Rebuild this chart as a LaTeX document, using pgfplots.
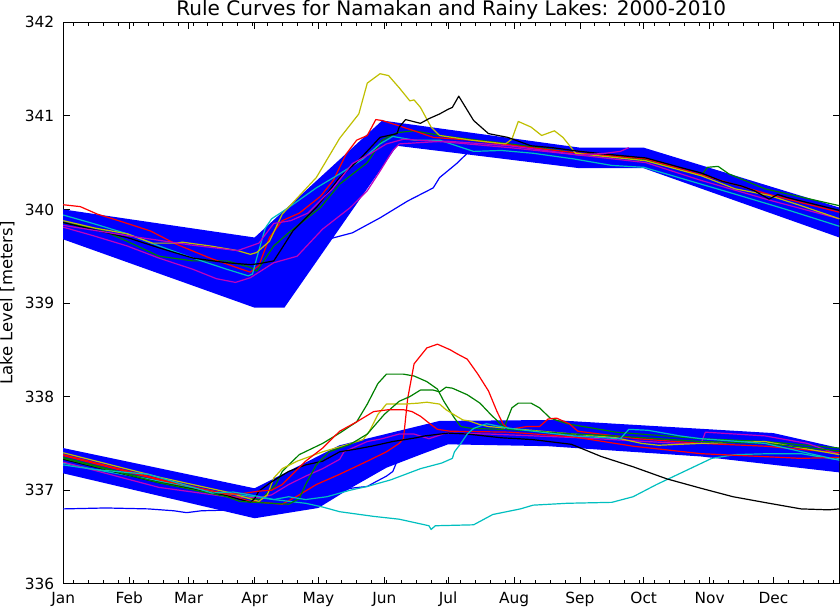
\documentclass[border=0pt]{standalone}
\usepackage{fontspec}
\setmainfont{DejaVu Sans}
\usepackage{pgfplots}
\pgfplotsset{compat=1.18}
\definecolor{mplb}{HTML}{0000FF}
\definecolor{mplg}{HTML}{008000}
\definecolor{mplr}{HTML}{FF0000}
\definecolor{mplc}{HTML}{00BFBF}
\definecolor{mplm}{HTML}{BF00BF}
\definecolor{mply}{HTML}{BFBF00}

\pgfplotsset{yr/.style={line width=0.9pt, line join=round}}

\begin{document}
\begin{tikzpicture}
\begin{axis}[
    name=ax,
    scale only axis,
    width=580.5pt, height=420pt,
    xmin=0, xmax=365, ymin=336, ymax=342,
    xtick={0,31,59,90,120,151,181,212,243,273,304,334},
    xticklabels={Jan,Feb,Mar,Apr,May,Jun,Jul,Aug,Sep,Oct,Nov,Dec},
    minor xtick={5,12,...,362},
    ytick={336,337,...,342},
    tick align=inside,
    major tick length=5pt, minor tick length=2.5pt,
    tick style={black, line width=0.6pt},
    axis line style={line width=1pt},
    /pgf/number format/assume math mode=true,
    ticklabel style={font=\fontsize{11.5}{13}\selectfont, inner sep=0pt},
    xticklabel style={anchor=base, yshift=-15pt},
    yticklabel style={anchor=east, xshift=-6.5pt},
    every axis title/.style={at={(0.5,1)}, anchor=base, inner sep=0pt, yshift=5.25pt, font=\fontsize{15}{17}\selectfont},
    title={Rule Curves for Namakan and Rainy Lakes: 2000-2010},
]
% rule curve bands
\addplot[fill=mplb, draw=none] coordinates {(0,340.00)(90,339.70)(150,340.95)(243,340.66)(273,340.66)(365,340.02)(365,339.70)(273,340.44)(243,340.44)(157,340.68)(104,338.95)(90,338.95)(0,339.68)} -- cycle;
\addplot[fill=mplb, draw=none] coordinates {(0,337.45)(90,337.02)(130,337.48)(177,337.74)(230,337.75)(334,337.61)(365,337.45)(365,337.19)(300,337.36)(228,337.47)(181,337.49)(168,337.38)(152,337.24)(135,337.02)(120,336.81)(90,336.70)(0,337.18)} -- cycle;

% Namakan
\addplot[yr, mplb] coordinates {(0,339.85)(30,339.70)(60,339.55)(88,339.42)(105,339.55)(126,339.69)(136,339.75)(149,339.91)(162,340.09)(174,340.23)(177,340.34)(185,340.49)(190,340.60)(196,340.70)(220,340.68)(243,340.58)(274,340.50)(300,340.33)(332,340.05)(365,339.85)};
\addplot[yr, mplg] coordinates {(0,339.86)(17,339.79)(30,339.66)(45,339.50)(61,339.45)(77,339.45)(88,339.38)(91,339.34)(99,339.61)(106,339.75)(121,340.02)(130,340.27)(143,340.50)(150,340.74)(157,340.82)(165,340.84)(180,340.78)(210,340.70)(243,340.60)(274,340.53)(300,340.36)(303,340.45)(308,340.46)(313,340.38)(330,340.22)(365,340.04)};
\addplot[yr, mplr] coordinates {(0,340.05)(8,340.03)(16,339.95)(26,339.88)(41,339.77)(53,339.63)(69,339.48)(84,339.36)(88,339.33)(92,339.40)(97,339.70)(103,339.88)(111,339.96)(121,340.14)(127,340.31)(133,340.59)(138,340.74)(143,340.79)(147,340.96)(150,340.95)(157,340.90)(165,340.84)(174,340.77)(192,340.74)(220,340.66)(243,340.60)(274,340.54)(300,340.37)(332,340.16)(365,339.97)};
\addplot[yr, mplc] coordinates {(0,339.94)(14,339.85)(30,339.74)(45,339.61)(61,339.48)(77,339.36)(87,339.29)(89,339.31)(91,339.48)(95,339.80)(98,339.90)(106,340.02)(119,340.23)(130,340.38)(141,340.54)(149,340.70)(155,340.78)(165,340.74)(177,340.74)(193,340.62)(206,340.63)(221,340.60)(240,340.54)(258,340.47)(273,340.45)(300,340.27)(315,340.17)(340,340.00)(365,339.82)};
\addplot[yr, mplm] coordinates {(0,339.81)(14,339.72)(30,339.61)(45,339.48)(61,339.36)(72,339.26)(81,339.22)(88,339.27)(99,339.43)(110,339.50)(122,339.79)(135,340.02)(143,340.20)(149,340.41)(155,340.63)(158,340.70)(165,340.71)(180,340.73)(210,340.68)(243,340.58)(274,340.50)(300,340.31)(332,340.10)(365,339.90)};
\addplot[yr, mply] coordinates {(0,339.88)(15,339.80)(30,339.74)(42,339.64)(53,339.64)(56,339.65)(69,339.61)(82,339.56)(88,339.52)(91,339.54)(97,339.66)(103,339.95)(119,340.34)(130,340.76)(139,341.02)(143,341.35)(149,341.45)(153,341.43)(158,341.30)(163,341.16)(165,341.17)(168,341.09)(173,340.88)(177,340.79)(192,340.74)(208,340.70)(211,340.75)(214,340.94)(220,340.88)(225,340.79)(231,340.84)(235,340.77)(241,340.60)(253,340.57)(274,340.52)(300,340.36)(316,340.22)(332,340.15)(347,340.04)(365,339.90)};
\addplot[yr, black] coordinates {(0,339.86)(15,339.78)(30,339.70)(45,339.59)(61,339.48)(77,339.43)(88,339.41)(92,339.42)(99,339.45)(103,339.59)(108,339.77)(119,340.02)(130,340.34)(140,340.55)(149,340.77)(157,340.81)(158,340.88)(161,340.96)(168,340.92)(172,340.97)(177,341.02)(181,341.07)(183,341.09)(186,341.21)(193,340.95)(200,340.81)(209,340.77)(220,340.68)(230,340.66)(243,340.62)(260,340.58)(274,340.55)(290,340.45)(300,340.39)(310,340.30)(319,340.25)(325,340.20)(332,340.11)(336,340.16)(340,340.13)(347,340.09)(365,339.99)};
\addplot[yr, mplm] coordinates {(0,339.83)(30,339.72)(60,339.62)(82,339.56)(92,339.64)(99,339.85)(107,339.88)(115,339.96)(127,340.23)(136,340.49)(144,340.59)(152,340.70)(160,340.75)(180,340.72)(210,340.66)(243,340.58)(255,340.60)(262,340.62)(266,340.66)};

% Rainy
\addplot[yr, mplb] coordinates {(0,336.80)(20,336.81)(40,336.80)(52,336.78)(58,336.76)(65,336.78)(82,336.79)(100,336.86)(120,336.92)(135,337.02)(143,337.04)(147,337.09)(152,337.15)(155,337.20)(157,337.31)(160,337.34)(170,337.45)(181,337.55)(220,337.58)(260,337.50)(300,337.45)(365,337.30)};
\addplot[yr, mplg] coordinates {(0,337.35)(45,337.09)(77,336.94)(93,336.90)(100,337.06)(103,337.20)(111,337.38)(122,337.50)(130,337.61)(138,337.73)(143,337.92)(148,338.14)(152,338.24)(160,338.24)(165,338.22)(171,338.16)(176,338.08)(179,337.95)(184,337.77)(187,337.68)(192,337.66)(207,337.65)(211,337.88)(214,337.93)(220,337.93)(224,337.88)(229,337.77)(237,337.71)(260,337.62)(300,337.55)(330,337.52)(365,337.45)};
\addplot[yr, mplr] coordinates {(0,337.38)(45,337.12)(77,336.95)(88,336.88)(103,336.85)(111,336.95)(119,337.06)(130,337.17)(143,337.31)(152,337.41)(158,337.50)(160,337.55)(162,337.98)(165,338.35)(171,338.52)(176,338.56)(182,338.50)(185,338.46)(190,338.40)(195,338.24)(200,338.06)(204,337.84)(207,337.70)(210,337.65)(218,337.68)(224,337.68)(228,337.76)(232,337.77)(238,337.71)(242,337.63)(270,337.55)(300,337.50)(330,337.47)(365,337.40)};
\addplot[yr, mplc] coordinates {(0,337.29)(15,337.22)(45,337.10)(77,336.96)(83,336.95)(99,336.90)(114,336.86)(122,336.82)(130,336.77)(146,336.72)(158,336.69)(172,336.62)(173,336.58)(175,336.62)(193,336.63)(202,336.74)(215,336.80)(221,336.84)(237,336.86)(258,336.87)(268,336.93)(279,337.06)(292,337.20)(305,337.34)(316,337.38)(332,337.39)(347,337.39)(363,337.33)(365,337.34)};
\addplot[yr, mplm] coordinates {(0,337.30)(45,337.03)(77,336.93)(92,336.92)(98,336.95)(106,337.06)(114,337.15)(122,337.23)(130,337.33)(132,337.41)(143,337.52)(150,337.55)(158,337.60)(165,337.60)(172,337.55)(180,337.61)(200,337.60)(243,337.56)(290,337.50)(300,337.50)(302,337.62)(330,337.58)(350,337.50)(365,337.38)};
\addplot[yr, mply] coordinates {(0,337.40)(45,337.14)(77,336.98)(92,336.88)(96,336.95)(99,337.13)(103,337.23)(110,337.31)(122,337.41)(134,337.49)(141,337.54)(144,337.63)(148,337.81)(152,337.92)(160,337.92)(167,337.93)(171,337.94)(177,337.92)(180,337.86)(185,337.79)(188,337.75)(191,337.74)(196,337.70)(200,337.68)(230,337.62)(260,337.56)(272,337.50)(280,337.48)(300,337.50)(330,337.52)(365,337.38)};
\addplot[yr, black] coordinates {(0,337.33)(45,337.08)(77,336.94)(88,336.87)(90,336.91)(92,336.99)(98,337.09)(106,337.20)(114,337.27)(122,337.31)(130,337.41)(138,337.44)(145,337.47)(155,337.52)(166,337.56)(170,337.58)(181,337.61)(190,337.60)(206,337.56)(214,337.55)(221,337.54)(239,337.49)(253,337.36)(268,337.25)(284,337.12)(300,337.02)(315,336.93)(332,336.86)(347,336.80)(360,336.79)(365,336.80)};
\addplot[yr, mplg] coordinates {(0,337.34)(45,337.08)(77,336.93)(83,336.88)(98,336.86)(106,336.85)(111,336.91)(114,337.06)(119,337.27)(125,337.41)(135,337.49)(143,337.60)(151,337.81)(158,337.95)(163,338.00)(168,338.07)(174,338.07)(177,338.05)(180,338.10)(183,338.09)(190,338.02)(196,337.93)(201,337.81)(206,337.70)(209,337.65)(240,337.60)(260,337.58)(300,337.52)(330,337.50)(365,337.42)};
\addplot[yr, mplr] coordinates {(0,337.37)(45,337.11)(77,336.96)(83,336.96)(92,336.99)(98,337.00)(103,337.06)(114,337.31)(122,337.45)(130,337.63)(138,337.73)(146,337.84)(153,337.86)(160,337.86)(164,337.84)(168,337.79)(173,337.70)(176,337.65)(182,337.63)(210,337.62)(240,337.57)(268,337.47)(300,337.39)(347,337.34)(365,337.35)};
\addplot[yr, mplc] coordinates {(0,337.27)(15,337.22)(40,337.17)(70,336.97)(80,336.98)(88,336.95)(99,336.90)(106,336.93)(114,336.90)(124,336.93)(135,337.00)(143,337.04)(154,337.11)(168,337.23)(178,337.29)(183,337.34)(184,337.41)(187,337.50)(190,337.60)(193,337.66)(199,337.71)(210,337.66)(240,337.58)(262,337.55)(266,337.65)(275,337.64)(290,337.58)(300,337.55)(330,337.50)(365,337.32)};
\end{axis}
\node[rotate=90, anchor=north, inner sep=0pt, font=\fontsize{12.3}{14}\selectfont] at ([xshift=-47.5pt]ax.west) {Lake Level [meters]};
\end{tikzpicture}
\end{document}
